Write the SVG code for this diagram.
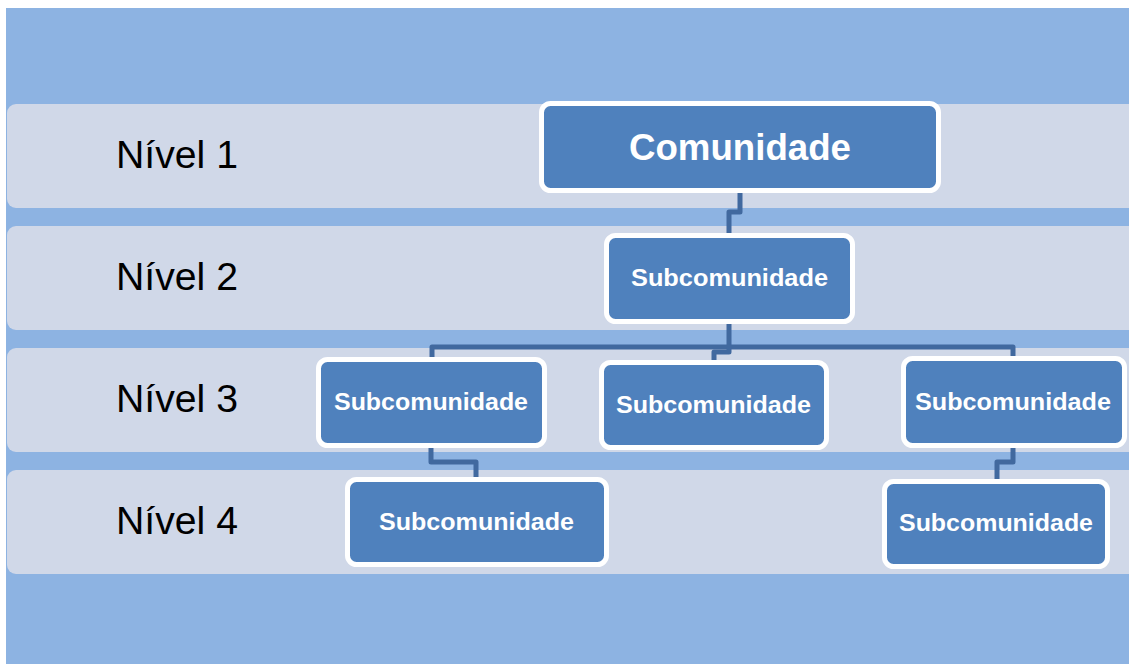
<svg xmlns="http://www.w3.org/2000/svg" width="1129" height="664" viewBox="0 0 1129 664">
  <style>
    .band { fill: #d0d8e8; }
    .node rect { fill: #4f81bd; stroke: #ffffff; stroke-width: 5; }
    .node text { fill: #ffffff; font-family: "Liberation Sans", Arial, sans-serif; font-weight: bold; text-anchor: middle; }
    .lvl { fill: #000000; font-family: "Liberation Sans", Arial, sans-serif; font-size: 38px; }
    .conn path { fill: none; stroke: #41699f; stroke-width: 5; stroke-linejoin: round; }
  </style>

  <!-- backdrop -->
  <rect x="6" y="8" width="1123" height="656" fill="#8db3e2"/>

  <!-- level bands -->
  <g id="bands">
    <rect class="band" x="7" y="104" width="1140" height="104" rx="9"/>
    <rect class="band" x="7" y="226" width="1140" height="104" rx="9"/>
    <rect class="band" x="7" y="348" width="1140" height="104" rx="9"/>
    <rect class="band" x="7" y="470" width="1140" height="104" rx="9"/>
  </g>

  <!-- level labels -->
  <g id="labels">
    <text class="lvl" x="116" y="168" textLength="122" lengthAdjust="spacingAndGlyphs">Nível 1</text>
    <text class="lvl" x="116" y="290" textLength="122" lengthAdjust="spacingAndGlyphs">Nível 2</text>
    <text class="lvl" x="116" y="412" textLength="122" lengthAdjust="spacingAndGlyphs">Nível 3</text>
    <text class="lvl" x="116" y="534" textLength="122" lengthAdjust="spacingAndGlyphs">Nível 4</text>
  </g>

  <!-- connectors -->
  <g id="connectors" class="conn">
    <path d="M740,190 V212 H729 V236"/>
    <path d="M729,320 V347 H432 V360"/>
    <path d="M729,347 H1013 V360"/>
    <path d="M729,347 V352 H714 V363"/>
    <path d="M431,444 V462 H476 V480"/>
    <path d="M1013,444 V462 H997 V481"/>
  </g>

  <!-- nodes -->
  <g id="n-comunidade" class="node">
    <rect x="541.5" y="103.5" width="397" height="87" rx="9"/>
    <text x="740" y="160" font-size="37" textLength="222" lengthAdjust="spacingAndGlyphs">Comunidade</text>
  </g>
  <g id="n-sub-2" class="node">
    <rect x="606.5" y="235.5" width="246" height="86" rx="9"/>
    <text x="729.5" y="286" font-size="24" textLength="197" lengthAdjust="spacingAndGlyphs">Subcomunidade</text>
  </g>
  <g id="n-sub-3a" class="node">
    <rect x="318.5" y="359.5" width="226" height="86" rx="9"/>
    <text x="431" y="410" font-size="24" textLength="194" lengthAdjust="spacingAndGlyphs">Subcomunidade</text>
  </g>
  <g id="n-sub-3b" class="node">
    <rect x="601.5" y="362.5" width="225" height="85" rx="9"/>
    <text x="713.5" y="413" font-size="24" textLength="195" lengthAdjust="spacingAndGlyphs">Subcomunidade</text>
  </g>
  <g id="n-sub-3c" class="node">
    <rect x="903.5" y="358.5" width="221" height="87" rx="9"/>
    <text x="1013" y="410" font-size="24" textLength="196" lengthAdjust="spacingAndGlyphs">Subcomunidade</text>
  </g>
  <g id="n-sub-4a" class="node">
    <rect x="347.5" y="479.5" width="259" height="85" rx="9"/>
    <text x="476.5" y="530" font-size="24" textLength="195" lengthAdjust="spacingAndGlyphs">Subcomunidade</text>
  </g>
  <g id="n-sub-4b" class="node">
    <rect x="884.5" y="481.5" width="223" height="85" rx="9"/>
    <text x="996" y="531" font-size="24" textLength="194" lengthAdjust="spacingAndGlyphs">Subcomunidade</text>
  </g>
</svg>
